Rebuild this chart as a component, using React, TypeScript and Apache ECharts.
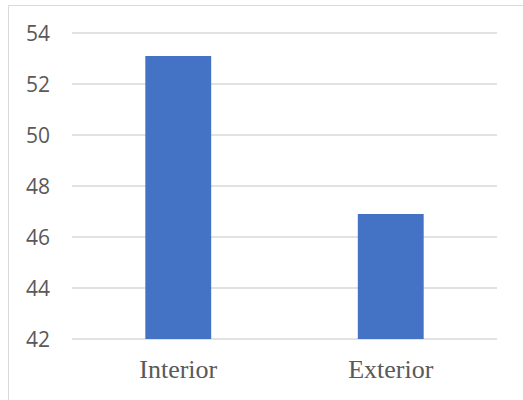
import React, { useEffect, useRef } from "react";
import * as echarts from "echarts";

const categories = ["Interior", "Exterior"];
const values = [53.1, 46.9];
const yMin = 42;
const yMax = 54;
const yInterval = 2;

export default function App() {
  const ref = useRef<HTMLDivElement>(null);
  useEffect(() => {
    if (!ref.current) return;
    const chart = echarts.init(ref.current, undefined, { renderer: "svg" });
    chart.setOption({
      animation: false,
      backgroundColor: "#ffffff",
      graphic: [
        {
          type: "rect",
          shape: { x: 8.5, y: 5.5, width: 530, height: 420 },
          style: { fill: "none", stroke: "#d9d9d9", lineWidth: 1 },
          silent: true,
        },
      ],
      grid: { left: 72, right: 26, top: 33, bottom: 61 },
      xAxis: {
        type: "category",
        data: categories,
        axisLine: { show: false },
        axisTick: { show: false },
        axisLabel: {
          color: "#595959",
          fontFamily: "Liberation Serif",
          fontSize: 26,
          margin: 17,
        },
      },
      yAxis: {
        type: "value",
        min: yMin,
        max: yMax,
        interval: yInterval,
        axisLine: { show: false },
        axisTick: { show: false },
        splitLine: { lineStyle: { color: "#d9d9d9", width: 1.5 } },
        axisLabel: {
          color: "#595959",
          fontFamily: "'Open Sans', sans-serif",
          fontSize: 21,
          margin: 22,
        },
      },
      series: [
        {
          type: "bar",
          data: values,
          barWidth: "31%",
          itemStyle: { color: "#4472c4" },
        },
      ],
    });
    return () => chart.dispose();
  }, []);
  return (
    <div
      ref={ref}
      style={{ position: "fixed", left: 0, top: 0, width: 523, height: 400 }}
    />
  );
}
